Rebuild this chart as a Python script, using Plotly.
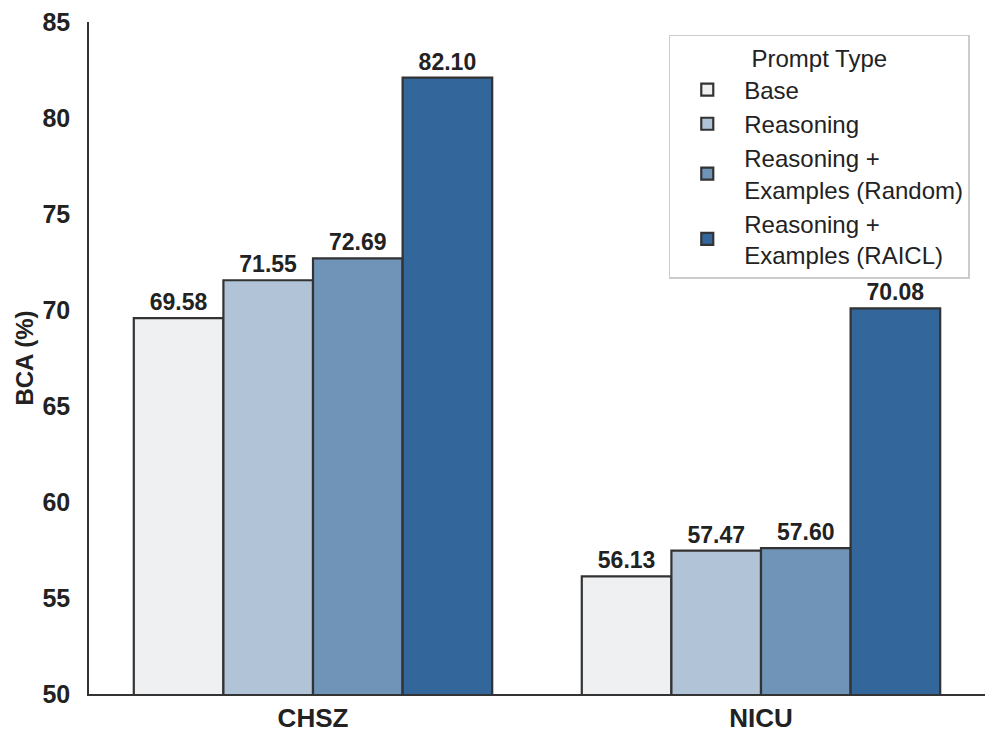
import plotly.graph_objects as go

categories = ["CHSZ", "NICU"]
series_names = ["Base", "Reasoning", "Reasoning +<br>Examples (Random)", "Reasoning +<br>Examples (RAICL)"]
base = [69.58, 56.13]
reasoning = [71.55, 57.47]
random_ex = [72.69, 57.60]
raicl = [82.10, 70.08]
values = [base, reasoning, random_ex, raicl]
colors = ["#eff0f2", "#b0c3d7", "#7093b8", "#33669a"]
y_ticks = [50, 55, 60, 65, 70, 75, 80, 85]

FONT = "Liberation Sans, Arial, sans-serif"

fig = go.Figure()
for name, vals, col in zip(series_names, values, colors):
    fig.add_trace(go.Bar(
        x=categories, y=vals, name=name,
        marker=dict(color=col, line=dict(color="#333333", width=2.2)),
        text=[f"<b>{v:.2f}</b>" for v in vals],
        textposition="outside",
        textfont=dict(family=FONT, size=23, color="#222222"),
        cliponaxis=False,
    ))

fig.update_layout(
    width=997, height=745,
    margin=dict(l=81, r=20, t=14, b=59),
    barmode="group", bargap=0.2, bargroupgap=0,
    plot_bgcolor="white", paper_bgcolor="white",
    font=dict(family=FONT, color="#222222"),
    showlegend=True,
    legend=dict(
        title=dict(text="Prompt Type", font=dict(family=FONT, size=24, color="#222222"), side="top center"),
        font=dict(family=FONT, size=24, color="#222222"),
        x=0.983, xanchor="right", y=0.981, yanchor="top",
        bgcolor="white", bordercolor="#cccccc", borderwidth=1.5,
        tracegroupgap=0, itemwidth=64,
    ),
    xaxis=dict(
        range=[-0.5, 1.5], showline=True, linecolor="#333333", linewidth=1.5,
        ticks="", tickfont=dict(family=FONT, size=26, color="#222222"),
        tickvals=categories, ticktext=[f"<b>{c}</b>" for c in categories],
        showgrid=False, zeroline=False, automargin=False,
    ),
    yaxis=dict(
        range=[50, 85], showline=True, linecolor="#333333", linewidth=1.5,
        tickvals=y_ticks, ticktext=[f"<b>{t}</b>" for t in y_ticks],
        tickfont=dict(family=FONT, size=25, color="#222222"),
        ticks="", ticklabelstandoff=12, ticklabeloverflow="allow",
        showgrid=False, zeroline=False, automargin=False,
        title=dict(text="<b>BCA (%)</b>", font=dict(family=FONT, size=24, color="#222222"), standoff=2),
    ),
)

fig.write_html("out.html")
